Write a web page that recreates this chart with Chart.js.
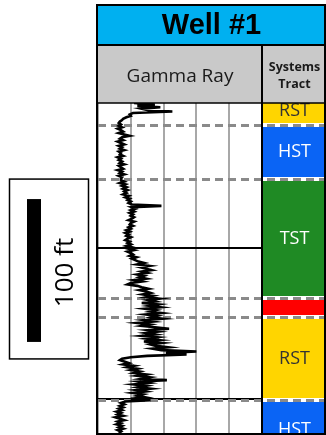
<!DOCTYPE html>
<html>
<head>
<meta charset="utf-8">
<script src="https://cdn.jsdelivr.net/npm/chart.js@4.4.1/dist/chart.umd.min.js"></script>
<style>
  html, body { margin: 0; padding: 0; background: #fff; overflow: hidden; }
  canvas { display: block; }
</style>
</head>
<body>
<canvas id="log" width="326" height="435"></canvas>
<script>
// ---- Labels ----
const wellName = 'Well #1';
const curveName = 'Gamma Ray';
const tractHeader = ['Systems', 'Tract'];
const scaleBarFt = 100;
const scaleBarLabel = '100 ft';

// ---- Gamma ray log (API units), one reading per foot below the top of the window ----
const depthTopFt = 0;
const depthBaseFt = 231;
const sampleStepFt = 1;
const gammaRay = [
  33, 52, 36, 57, 40, 46, 68, 32, 29, 30,
  26, 23, 22, 20, 19, 21, 19, 22, 18, 21,
  23, 19, 24, 29, 22, 20, 23, 18, 21, 24,
  19, 22, 20, 24, 19, 21, 20, 23, 18, 21,
  19, 22, 20, 24, 19, 21, 23, 18, 22, 20,
  24, 19, 22, 21, 21, 24, 20, 25, 22, 26,
  23, 27, 24, 26, 23, 28, 25, 29, 27, 30,
  28, 31, 58, 31, 34, 30, 33, 29, 32, 30,
  33, 31, 28, 33, 30, 29, 32, 28, 30, 26,
  29, 25, 28, 26, 30, 27, 25, 29, 27, 30,
  26, 31, 28, 33, 27, 30, 32, 29, 35, 31,
  34, 37, 42, 36, 47, 39, 44, 49, 40, 45,
  36, 42, 38, 44, 33, 40, 30, 27, 36, 40,
  46, 38, 44, 48, 41, 50, 44, 56, 46, 52,
  40, 55, 47, 57, 43, 53, 48, 58, 44, 54,
  49, 59, 42, 50, 36, 47, 40, 52, 65, 46,
  55, 44, 52, 40, 54, 45, 56, 42, 58, 48,
  53, 64, 50, 58, 90, 62, 81, 45, 30, 22,
  20, 24, 28, 23, 33, 27, 36, 30, 38, 33,
  44, 36, 47, 40, 63, 38, 46, 33, 44, 37,
  48, 35, 43, 32, 41, 36, 43, 30, 48, 25,
  21, 24, 20, 23, 19, 22, 17, 21, 18, 23,
  16, 20, 24, 18, 21, 17, 22, 19, 23, 18,
  21, 19
];

// ---- Track scales ----
const grMin = 0, grMax = 150, grStep = 30;
const depthGridFt = [101.5, 207];

// ---- Systems tracts (depth in ft) ----
const tractNames = ['RST', 'HST', 'TST', '', 'RST', 'HST'];
const tractTops  = [-4, 15.4, 53.2, 136.5, 149.8, 207.9];
const tractBases = [15.4, 53.2, 136.5, 149.8, 207.9, 250];
const tractColors = ['#FFD500', '#0A64F5', '#1F8A24', '#FF0000', '#FFD500', '#0A64F5'];
const tractTextColors = ['#333333', '#ffffff', '#ffffff', '#ffffff', '#333333', '#ffffff'];

const points = gammaRay.map((v, i) => ({ x: v, y: depthTopFt + i * sampleStepFt }));

const W = 326;
const frameRight = 325;

const logPanel = {
  id: 'logPanel',
  beforeDatasetsDraw(chart) {
    const { ctx, chartArea: a, scales: { y } } = chart;
    ctx.save();
    ctx.beginPath();
    ctx.rect(a.left, a.top, W - a.left, a.bottom - a.top);
    ctx.clip();

    // Systems tract column
    tractNames.forEach((name, i) => {
      const t = y.getPixelForValue(tractTops[i]);
      const b = y.getPixelForValue(tractBases[i]);
      ctx.fillStyle = tractColors[i];
      ctx.fillRect(a.right + 1, t + 2, frameRight - a.right - 1, b - t - 4);
      if (name) {
        ctx.fillStyle = tractTextColors[i];
        ctx.font = '18px "Open Sans", sans-serif';
        ctx.textAlign = 'center';
        ctx.textBaseline = 'middle';
        ctx.fillText(name, (a.right + frameRight) / 2 + 1, (t + b) / 2);
      }
    });

    // Tract boundaries
    ctx.setLineDash([8, 5]);
    ctx.strokeStyle = '#8a8a8a';
    ctx.lineWidth = 3;
    tractTops.slice(1).forEach(d => {
      const p = Math.round(y.getPixelForValue(d)) + 0.5;
      ctx.beginPath();
      ctx.moveTo(a.left, p);
      ctx.lineTo(W, p);
      ctx.stroke();
    });
    ctx.restore();
  },
  afterDraw(chart) {
    const { ctx, chartArea: a, scales: { y } } = chart;
    const top = 5, headSplit = 45;
    ctx.save();

    // Header bands
    ctx.fillStyle = '#00B0F0';
    ctx.fillRect(a.left - 1, top, W - a.left + 1, headSplit - top);
    ctx.fillStyle = '#C9C9C9';
    ctx.fillRect(a.left - 1, headSplit, W - a.left + 1, a.top - headSplit);

    ctx.fillStyle = '#000';
    ctx.textAlign = 'center';
    ctx.textBaseline = 'middle';
    ctx.font = 'bold 29px "Liberation Sans", Arial, sans-serif';
    ctx.fillText(wellName, (a.left + frameRight) / 2, (top + headSplit) / 2 + 1);

    ctx.fillStyle = '#1a1a1a';
    ctx.font = '19px "Open Sans", sans-serif';
    ctx.fillText(curveName, (a.left + a.right) / 2, 77);
    ctx.font = 'bold 12.5px "Open Sans", sans-serif';
    ctx.fillText(tractHeader[0], (a.right + frameRight) / 2 + 1, 67);
    ctx.fillText(tractHeader[1], (a.right + frameRight) / 2 + 1, 84);

    // Frame lines
    ctx.strokeStyle = '#000';
    ctx.lineWidth = 2;
    ctx.strokeRect(a.left - 1, top, frameRight - a.left + 1, a.bottom - top + 1);
    ctx.beginPath();
    ctx.moveTo(a.left - 1, headSplit); ctx.lineTo(W, headSplit);
    ctx.moveTo(a.right, headSplit); ctx.lineTo(a.right, a.bottom + 1);
    ctx.stroke();
    ctx.lineWidth = 1.5;
    ctx.beginPath();
    ctx.moveTo(a.left - 1, a.top); ctx.lineTo(W, a.top);
    ctx.stroke();

    // Depth scale bar
    const h = y.getPixelForValue(scaleBarFt) - y.getPixelForValue(0);
    const cy = 270.5;
    const barTop = cy - h / 2;
    ctx.fillStyle = '#000';
    ctx.fillRect(27, barTop, 14, h);
    ctx.lineWidth = 1.5;
    ctx.strokeRect(9.5, barTop - 20, 79, h + 37);
    ctx.translate(66, cy + 2);
    ctx.rotate(-Math.PI / 2);
    ctx.font = '26px "Open Sans", sans-serif';
    ctx.fillStyle = '#000';
    ctx.fillText(scaleBarLabel, 0, 0);
    ctx.restore();
  }
};

new Chart(document.getElementById('log'), {
  type: 'scatter',
  data: {
    datasets: [{
      label: curveName,
      data: points,
      showLine: true,
      borderColor: '#000',
      borderWidth: 2.6,
      pointRadius: 0,
      tension: 0
    }]
  },
  options: {
    responsive: false,
    animation: false,
    layout: { padding: { left: 98, right: W - 262, top: 103, bottom: 2 } },
    plugins: { legend: { display: false }, tooltip: { enabled: false } },
    scales: {
      x: {
        type: 'linear',
        min: grMin, max: grMax,
        ticks: { display: false, stepSize: grStep },
        grid: { color: '#A8A8A8', lineWidth: 2, drawTicks: false },
        border: { display: false },
        afterFit: s => { s.height = 0; }
      },
      y: {
        type: 'linear',
        reverse: true,
        min: depthTopFt, max: depthBaseFt,
        ticks: { display: false },
        afterBuildTicks: s => { s.ticks = depthGridFt.map(v => ({ value: v })); },
        grid: { color: '#000', lineWidth: 2, drawTicks: false },
        border: { display: false },
        afterFit: s => { s.width = 0; }
      }
    }
  },
  plugins: [logPanel]
});
</script>
</body>
</html>
